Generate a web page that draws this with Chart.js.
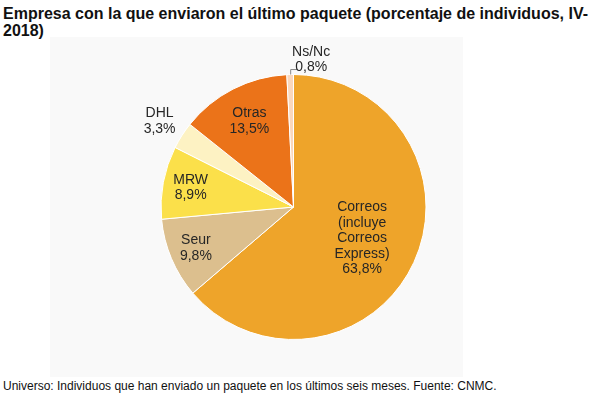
<!DOCTYPE html>
<html>
<head>
<meta charset="utf-8">
<script src="https://cdn.jsdelivr.net/npm/chart.js@4"></script>
<style>
  html, body { margin: 0; padding: 0; background: #fff; }
  body { width: 600px; height: 399px; position: relative; overflow: hidden; font-family: "Liberation Sans", Arial, sans-serif; }
  #title { position: absolute; left: 3px; top: 5px; width: 590px; font-weight: bold; font-size: 16px; line-height: 17px; color: #111; }
  #box { position: absolute; left: 50px; top: 37px; width: 413px; height: 340px; background: #f9f9f9; }
  #footer { position: absolute; left: 3px; top: 379px; font-size: 12px; line-height: 14px; color: #111; }
</style>
</head>
<body>
<div id="title">Empresa con la que enviaron el último paquete (porcentaje de individuos, IV-2018)</div>
<div id="box"><canvas id="pie" width="413" height="340"></canvas></div>
<div id="footer">Universo: Individuos que han enviado un paquete en los últimos seis meses. Fuente: CNMC.</div>
<script>
// data, clockwise from 12 o'clock
const categories = [['Correos', '(incluye', 'Correos', 'Express)'], ['Seur'], ['MRW'], ['DHL'], ['Otras'], ['Ns/Nc']];
const shares = [63.8, 9.8, 8.9, 3.3, 13.5, 0.8];

const sliceColors = ['#eea42a', '#dcbf8e', '#fbe04a', '#fdf2c3', '#eb7319', '#fad7bc'];

function fmtPct(v) {
    return v.toFixed(1).replace('.', ',') + '%';
}

// draws the labels in (or next to) each slice
const sliceLabels = {
    id: 'sliceLabels',
    afterDatasetsDraw(chart, args, opts) {
        const { ctx } = chart;
        const meta = chart.getDatasetMeta(0);
        ctx.save();
        ctx.font = opts.font;
        ctx.fillStyle = opts.color;
        ctx.textAlign = 'center';
        ctx.textBaseline = 'middle';
        meta.data.forEach((arc, i) => {
            const { x, y, startAngle, endAngle, outerRadius } =
                arc.getProps(['x', 'y', 'startAngle', 'endAngle', 'outerRadius'], true);
            const mid = (startAngle + endAngle) / 2;
            const lines = [...chart.data.labels[i], fmtPct(chart.data.datasets[0].data[i])];
            let lx, ly;
            if (opts.leader[i]) {
                // small elbow line from the rim, text up and to the right
                const ax = x + Math.cos(mid) * outerRadius;
                const ay = y + Math.sin(mid) * outerRadius;
                ctx.strokeStyle = '#888';
                ctx.lineWidth = 1;
                ctx.beginPath();
                ctx.moveTo(ax + 0.5, ay);
                ctx.lineTo(ax + 0.5, ay - 5);
                ctx.lineTo(ax + 7, ay - 5);
                ctx.stroke();
                lx = ax + 21;
                ly = ay - 15;
            } else {
                const r = outerRadius * opts.radius[i];
                lx = x + Math.cos(mid) * r;
                ly = y + Math.sin(mid) * r;
            }
            const top = ly - (lines.length - 1) * opts.lineHeight / 2;
            lines.forEach((t, k) => ctx.fillText(t, lx, top + k * opts.lineHeight));
        });
        ctx.restore();
    }
};

new Chart(document.getElementById('pie'), {
    type: 'pie',
    plugins: [sliceLabels],
    data: {
        labels: categories,
        datasets: [{
            data: shares,
            backgroundColor: sliceColors,
            borderColor: '#ffffff',
            borderWidth: 1
        }]
    },
    options: {
        responsive: false,
        devicePixelRatio: 1,
        animation: false,
        layout: { padding: { left: 110, right: 36, top: 37, bottom: 37 } },
        plugins: {
            legend: { display: false },
            tooltip: { enabled: false },
            sliceLabels: {
                font: '14px "Liberation Sans", Arial, sans-serif',
                color: '#262626',
                lineHeight: 15.5,
                radius: [0.57, 0.8, 0.79, 1.2, 0.73, 1],
                leader: [false, false, false, false, false, true]
            }
        }
    }
});
</script>
</body>
</html>
